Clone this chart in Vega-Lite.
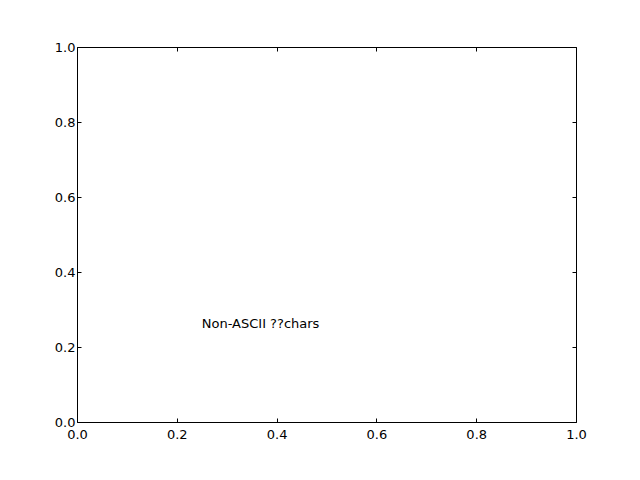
{
  "$schema": "https://vega.github.io/schema/vega-lite/v6.json",
  "width": 499,
  "height": 375,
  "autosize": "none",
  "padding": {"left": 77, "top": 47, "right": 64, "bottom": 58},
  "background": "white",
  "config": {
    "font": "DejaVu Sans",
    "view": {"stroke": "black", "strokeWidth": 1},
    "axis": {"grid": false, "domain": false, "tickColor": "black", "tickSize": -4, "labelFontSize": 13, "labelColor": "black", "labelFont": "DejaVu Sans", "labelPadding": 10, "title": null}
  },
  "data": {"values": [{"x": 0.25, "y": 0.25, "label": "Non-ASCII ??chars"}]},
  "layer": [
    {
      "mark": {"type": "text", "align": "left", "baseline": "alphabetic", "fontSize": 13, "font": "DejaVu Sans", "color": "black"},
      "encoding": {
        "x": {"field": "x", "type": "quantitative", "scale": {"domain": [0, 1], "nice": false}, "axis": {"values": [0, 0.2, 0.4, 0.6, 0.8, 1], "format": ".1f", "orient": "bottom", "labelFlush": false}},
        "y": {"field": "y", "type": "quantitative", "scale": {"domain": [0, 1], "nice": false}, "axis": {"values": [0, 0.2, 0.4, 0.6, 0.8, 1], "format": ".1f", "orient": "left", "labelFlush": false, "labelPadding": 6}},
        "text": {"field": "label"}
      }
    },
    {
      "mark": {"type": "point", "opacity": 0},
      "encoding": {
        "x": {"field": "x", "type": "quantitative", "scale": {"domain": [0, 1], "nice": false}, "axis": {"values": [0, 0.2, 0.4, 0.6, 0.8, 1], "orient": "top", "labels": false}},
        "y": {"field": "y", "type": "quantitative", "scale": {"domain": [0, 1], "nice": false}, "axis": {"values": [0, 0.2, 0.4, 0.6, 0.8, 1], "orient": "right", "labels": false}}
      }
    }
  ],
  "resolve": {"axis": {"x": "independent", "y": "independent"}}
}
